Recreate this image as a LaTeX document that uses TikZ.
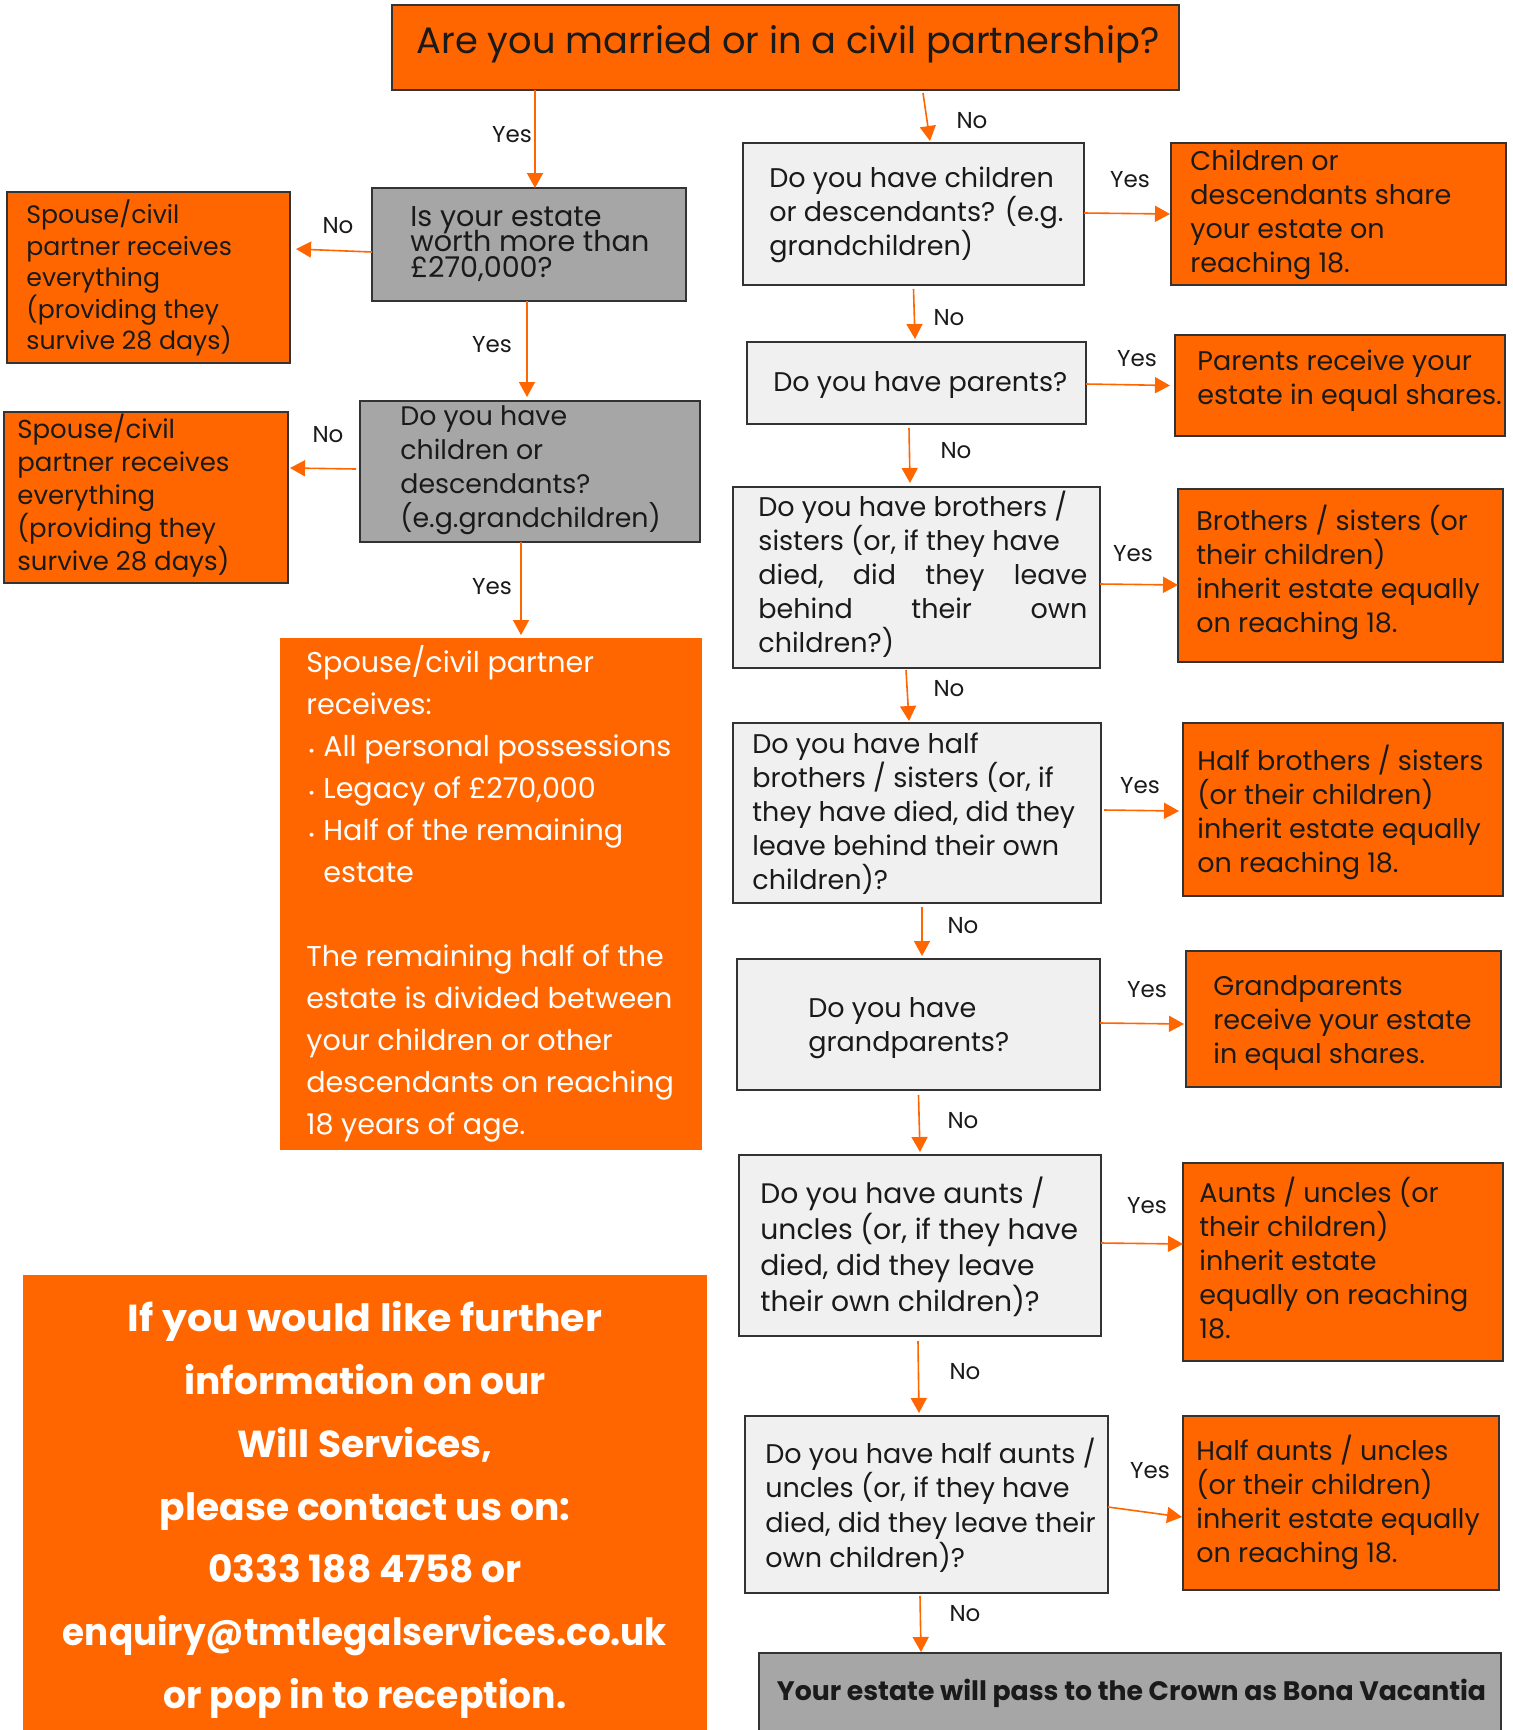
\documentclass[tikz,border=0pt]{standalone}
\usepackage{fontspec}
\setmainfont{Poppins}
\usetikzlibrary{arrows.meta}
\definecolor{org}{HTML}{FF6600}
\definecolor{dgray}{HTML}{A6A6A6}
\definecolor{lgray}{HTML}{F0F0F0}
\definecolor{bord}{HTML}{333333}
\definecolor{ink}{HTML}{1A1A1A}
\newcommand\tightlines{\lineskiplimit=-20pt\relax\lineskip=0pt\relax}
\begin{document}
\begin{tikzpicture}[x=0.5pt,y=-0.5pt,
  box/.style={draw=bord, line width=1pt, inner sep=0pt, outer sep=0pt},
  qbox/.style={box, fill=lgray},
  gbox/.style={box, fill=dgray},
  abox/.style={box, fill=org},
  obox/.style={fill=org, inner sep=0pt, outer sep=0pt},
  txt/.style={anchor=west, align=left, inner sep=0pt, text=ink},
  body/.style={font=\fontsize{13.5}{17}\selectfont},
  arr/.style={draw=org, line width=0.8pt, -{Triangle[length=7.5pt,width=8pt]}},
  lbl/.style={font=\fontsize{11.5}{14}\selectfont, inner sep=0pt, text=ink}]
\useasboundingbox (0,0) rectangle (1513,1730);
\fill[white] (0,0) rectangle (1513,1730);

% ---------- boxes ----------
\node[abox, minimum width=393.5pt, minimum height=42.5pt] (title) at (785.5,47.5) {};
\node[txt, anchor=center, font=\fontsize{18.4}{22}\selectfont] (titlet) at (788,44) {Are you married or in a civil partnership?};

\node[gbox, minimum width=157pt, minimum height=56.5pt] (g1) at (529,244.5) {};
\node[txt, font={\fontsize{14.3}{12.75}\selectfont\tightlines}] (g1t) at (410,244) {Is your estate\\worth more than\\£270,000?};

\node[abox, minimum width=141.5pt, minimum height=85.5pt] (l1) at (148.5,277.5) {};
\node[txt, font=\fontsize{12.6}{15.75}\selectfont] (l1t) at (26,278) {Spouse/civil\\partner receives\\everything\\(providing they\\survive 28 days)};

\node[gbox, minimum width=170pt, minimum height=70.5pt] (g2) at (530,471.5) {};
\node[txt, font=\fontsize{13.4}{17}\selectfont] (g2t) at (400,470.5) {Do you have\\children or\\descendants?\\(e.g.grandchildren)};

\node[abox, minimum width=142pt, minimum height=85.5pt] (l2) at (146,497.5) {};
\node[txt, font=\fontsize{13}{16.4}\selectfont] (l2t) at (17,495.5) {Spouse/civil\\partner receives\\everything\\(providing they\\survive 28 days)};

\node[obox, minimum width=211pt, minimum height=256pt] (bb) at (491,894) {};
\node[txt, text=white, font=\fontsize{14.3}{21}\selectfont] (bbt) at (306,894) {Spouse/civil partner\\receives:\\\hspace*{1pt}\makebox[7.5pt][l]{\fontsize{8}{8}\selectfont•}All personal possessions\\\hspace*{1pt}\makebox[7.5pt][l]{\fontsize{8}{8}\selectfont•}Legacy of £270,000\\\hspace*{1pt}\makebox[7.5pt][l]{\fontsize{8}{8}\selectfont•}Half of the remaining\\\hspace*{8.5pt}estate\\[21pt]The remaining half of the\\estate is divided between\\your children or other\\descendants on reaching\\18 years of age.};

\node[obox, minimum width=342pt, minimum height=227.5pt] (cc) at (365,1502.5) {};
\node[align=center, inner sep=0pt, text=white, font=\bfseries\fontsize{18.8}{31.4}\selectfont] (cct) at (365,1510) {\scalebox{1.05}[1]{If you would like further}\\information on our\\Will Services,\\please contact us on:\\0333 188 4758 or\\\scalebox{0.95}[1]{enquiry@tmtlegalservices.co.uk}\\\scalebox{0.96}[1]{or pop in to reception.}};

\node[qbox, minimum width=170.5pt, minimum height=71pt] (q1) at (913.5,214) {};
\node[txt, body] (q1t) at (769,215) {Do you have children\\or descendants? (e.g.\\grandchildren)};
\node[abox, minimum width=167.5pt, minimum height=71pt] (a1) at (1338.5,214) {};
\node[txt, body] (a1t) at (1190,214.5) {Children or\\descendants share\\your estate on\\reaching 18.};

\node[qbox, minimum width=169.5pt, minimum height=41pt] (q2) at (916.5,383) {};
\node[txt, body] (q2t) at (773,385) {Do you have parents?};
\node[abox, minimum width=165pt, minimum height=50.5pt] (a2) at (1340,385.5) {};
\node[txt, body] (a2t) at (1197,381) {Parents receive your\\estate in equal shares.};

\node[qbox, minimum width=183.5pt, minimum height=90.5pt] (q3) at (916.5,577.5) {};
\node[txt, body] (q3t) at (758,574.5) {Do you have brothers /\\sisters (or, if they have\\\hbox to 164.5pt{died,\hfill did\hfill they\hfill leave}\\\hbox to 164.5pt{behind\hfill their\hfill own}\\children?)};
\node[abox, minimum width=162.5pt, minimum height=86.5pt] (a3) at (1340.5,575.5) {};
\node[txt, body] (a3t) at (1196,572.5) {Brothers / sisters (or\\their children)\\inherit estate equally\\on reaching 18.};

\node[qbox, minimum width=184pt, minimum height=90pt] (q4) at (917,813) {};
\node[txt, body] (q4t) at (752,814) {Do you have half\\brothers / sisters (or, if\\they have died, did they\\leave behind their own\\children)?};
\node[abox, minimum width=160pt, minimum height=86.5pt] (a4) at (1343,809.5) {};
\node[txt, body] (a4t) at (1197,812.5) {Half brothers / sisters\\(or their children)\\inherit estate equally\\on reaching 18.};

\node[qbox, minimum width=181.5pt, minimum height=65.5pt] (q5) at (918.5,1024.5) {};
\node[txt, body] (q5t) at (808,1028) {Do you have\\grandparents?};
\node[abox, minimum width=157.5pt, minimum height=68pt] (a5) at (1343.5,1019) {};
\node[txt, body] (a5t) at (1213,1023) {Grandparents\\receive your estate\\in equal shares.};

\node[qbox, minimum width=181pt, minimum height=90.5pt] (q6) at (920,1245.5) {};
\node[txt, font=\fontsize{14.1}{18}\selectfont] (q6t) at (760,1247) {Do you have aunts /\\uncles (or, if they have\\died, did they leave\\their own children)?};
\node[abox, minimum width=160pt, minimum height=99pt] (a6) at (1343,1262) {};
\node[txt, body] (a6t) at (1199,1258) {Aunts / uncles (or\\their children)\\inherit estate\\equally on reaching\\18.};

\node[qbox, minimum width=181.5pt, minimum height=88.5pt] (q7) at (926.5,1504.5) {};
\node[txt, font=\fontsize{13.5}{17.35}\selectfont] (q7t) at (765,1505) {Do you have half aunts /\\uncles (or, if they have\\died, did they leave their\\own children)?};
\node[abox, minimum width=158pt, minimum height=87pt] (a7) at (1341,1503) {};
\node[txt, body] (a7t) at (1196,1502.5) {Half aunts / uncles\\(or their children)\\inherit estate equally\\on reaching 18.};

\node[gbox, minimum width=371pt, minimum height=39pt] (ff) at (1130,1692) {};
\node[inner sep=0pt, text=ink, font=\bfseries\fontsize{13.35}{16}\selectfont] (fft) at (1131.5,1693) {Your estate will pass to the Crown as Bona Vacantia};

% ---------- connectors ----------
\draw[arr] ([xshift=-125.25pt]title.south) -- ([xshift=3pt]g1.north);
\draw[arr] ([xshift=68.75pt,yshift=-1.5pt]title.south) -- ([xshift=8.25pt,yshift=1pt]q1.north);
\draw[arr] ([yshift=-3.75pt]g1.west) -- ([xshift=3pt,yshift=14.25pt]l1.east);
\draw[arr] ([xshift=-1pt]g1.south) -- ([xshift=-1.5pt,yshift=2pt]g2.north);
\draw[arr] ([xshift=-2pt,yshift=1.25pt]g2.west) -- ([xshift=1pt,yshift=14.75pt]l2.east);
\draw[arr] ([xshift=-4.5pt]g2.south) -- ([xshift=15pt,yshift=1.5pt]bb.north);
\draw[arr] ([yshift=0.5pt]q1.east) -- ([xshift=-0.5pt]a1.west);
\draw[arr] ([yshift=-2pt]q1.south) -- ([xshift=-0.75pt,yshift=1.5pt]q2.north);
\draw[arr] ([yshift=-0.5pt]q2.east) -- ([xshift=-2.5pt]a2.west);
\draw[arr] ([xshift=-3.75pt,yshift=-2pt]q2.south) -- ([xshift=-3.25pt,yshift=2pt]q3.north);
\draw[arr] ([yshift=-3.25pt]q3.east) -- ([yshift=-4.75pt]a3.west);
\draw[arr] ([xshift=-5.25pt,yshift=-1pt]q3.south) -- ([xshift=-4pt,yshift=1pt]q4.north);
\draw[arr] ([xshift=1.5pt,yshift=1.5pt]q4.east) -- ([xshift=-2pt,yshift=-0.75pt]a4.west);
\draw[arr] ([xshift=2.5pt,yshift=-2pt]q4.south) -- ([xshift=1.75pt,yshift=1.5pt]q5.north);
\draw[arr] ([yshift=0.75pt]q5.east) -- ([xshift=-1pt,yshift=-2.5pt]a5.west);
\draw[arr] ([yshift=-2.5pt]q5.south) -- ([yshift=1.5pt]q6.north);
\draw[arr] ([yshift=1.25pt]q6.east) -- ([yshift=9pt]a6.west);
\draw[arr] ([xshift=-1pt,yshift=-2.5pt]q6.south) -- ([xshift=-3.75pt,yshift=1.5pt]q7.north);
\draw[arr] ([yshift=-1.25pt]q7.east) -- ([xshift=-0.5pt,yshift=-7pt]a7.west);
\draw[arr] ([xshift=-3.25pt,yshift=-1.5pt]q7.south) -- ([xshift=-104.5pt,yshift=0.5pt]ff.north);

% ---------- labels ----------
\node[lbl] (ly0) at (512,135) {Yes};
\node[lbl] (ln0) at (972,121) {No};
\node[lbl] (ln1) at (338,226) {No};
\node[lbl] (ly1) at (492,345) {Yes};
\node[lbl] (ln2) at (328,435) {No};
\node[lbl] (ly2) at (492,587) {Yes};
\node[lbl] (ly3) at (1130,180) {Yes};
\node[lbl] (ln3) at (949,318) {No};
\node[lbl] (ly4) at (1137,359) {Yes};
\node[lbl] (ln4) at (956,451) {No};
\node[lbl] (ly5) at (1133,554) {Yes};
\node[lbl] (ln5) at (949,689) {No};
\node[lbl] (ly6) at (1140,786) {Yes};
\node[lbl] (ln6) at (963,926) {No};
\node[lbl] (ly7) at (1147,990) {Yes};
\node[lbl] (ln7) at (963,1121) {No};
\node[lbl] (ly8) at (1147,1206) {Yes};
\node[lbl] (ln8) at (965,1372) {No};
\node[lbl] (ly9) at (1150,1471) {Yes};
\node[lbl] (ln9) at (965,1614) {No};
\end{tikzpicture}
\end{document}
